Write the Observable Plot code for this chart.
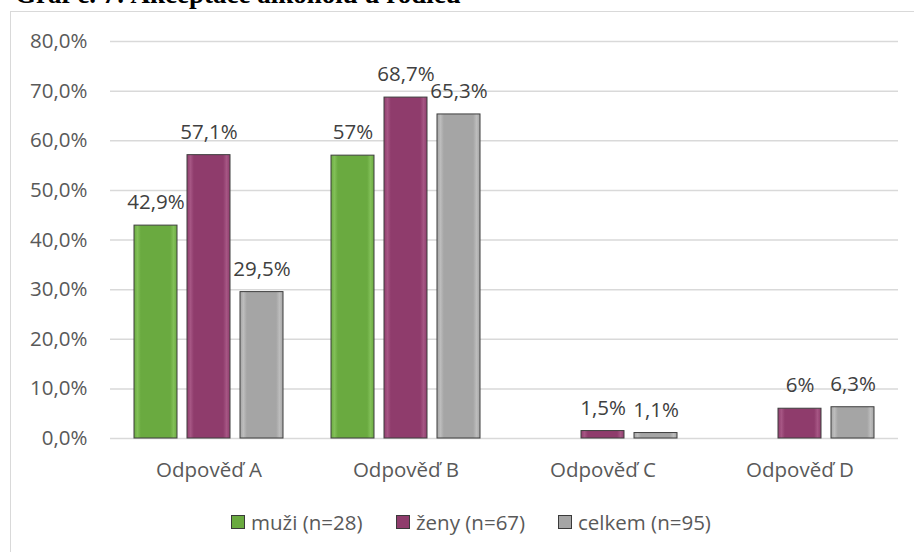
<!DOCTYPE html>
<html>
<head>
<meta charset="utf-8">
<script src="https://cdn.jsdelivr.net/npm/d3@7"></script>
<script src="https://cdn.jsdelivr.net/npm/@observablehq/plot@0.6"></script>
<style>
  html, body { margin: 0; padding: 0; background: #fff; }
  #page { position: relative; width: 914px; height: 552px; overflow: hidden; background: #fff; }
  #title {
    position: absolute; left: 15px; top: -19px; line-height: 1;
    font-family: "Liberation Serif", "Times New Roman", serif; font-weight: bold;
    font-size: 27px; color: #000; white-space: nowrap;
  }
  #frame {
    position: absolute; left: 10px; top: 11px; width: 920px; height: 560px;
    border: 1.5px solid #d9d9d9; box-sizing: border-box;
  }
  #chart { position: absolute; left: 0; top: 0; }
  #legend {
    position: absolute; top: 509px; left: 0; width: 914px; height: 26px;
    font-family: "Open Sans", sans-serif; font-size: 20.5px; color: #595959;
  }
  .item { position: absolute; top: 0; display: flex; align-items: center; height: 26px; white-space: nowrap; }
  .sw { width: 14px; height: 14px; box-sizing: border-box; border: 1px solid #3a3a3a; margin-right: 6px; }
</style>
</head>
<body>
<div id="page">
  <div id="title">Graf č. 7: Akceptace alkoholu u rodičů</div>
  <div id="frame"></div>
  <div id="chart"></div>
  <div id="legend"></div>
</div>
<script>
// Answer categories
const categories = ["Odpověď A", "Odpověď B", "Odpověď C", "Odpověď D"];
// Series names
const seriesNames = ["muži (n=28)", "ženy (n=67)", "celkem (n=95)"];
// Percentages per series (null = no answer in that group)
const muzi = [42.9, 57, null, null];
const zeny = [57.1, 68.7, 1.5, 6];
const celkem = [29.5, 65.3, 1.1, 6.3];
// Y axis ticks
const yTicks = [0, 10, 20, 30, 40, 50, 60, 70, 80];

const seriesValues = [muzi, zeny, celkem];
const baseColors = ["#6aaa40", "#8f3c6c", "#a5a5a5"];
const lightColors = ["#82c058", "#a65684", "#bdbdbd"];
const gradIds = ["g-muzi", "g-zeny", "g-celkem"];

const rows = [];
categories.forEach((c, i) => {
  seriesNames.forEach((s, j) => {
    const v = seriesValues[j][i];
    if (v != null) rows.push({category: c, series: s, value: v});
  });
});

const fmtPct = v => String(v).replace(".", ",") + "%";
const fmtTick = v => v.toFixed(1).replace(".", ",") + "%";

const font = '"Open Sans", sans-serif';

const chart = Plot.plot({
  width: 914,
  height: 490,
  marginTop: 41,
  marginBottom: 52,
  marginLeft: 110,
  marginRight: 16,
  style: {fontFamily: font, fontSize: "20.5px", color: "#595959", background: "transparent"},
  fx: {domain: categories, padding: 0, label: null, axis: null},
  x: {domain: seriesNames, paddingInner: 0.185, paddingOuter: 0.44, axis: null},
  y: {domain: [0, 80], label: null, axis: null},
  color: {domain: seriesNames, range: gradIds.map(id => `url(#${id})`)},
  marks: [
    Plot.gridY(yTicks, {stroke: "#d9d9d9", strokeOpacity: 1, strokeWidth: 1.5}),
    Plot.barY(rows, {fx: "category", x: "series", y: "value", fill: "series", stroke: "#3f3f3f", strokeWidth: 1}),
    Plot.text(rows, {fx: "category", x: "series", y: "value", text: d => fmtPct(d.value), dy: -23, fill: "#404040", fontSize: 20.5}),
    Plot.axisY({ticks: yTicks, tickFormat: fmtTick, tickSize: 0, tickPadding: 23, fontSize: 20.5, label: null, fill: "#595959"}),
    Plot.axisFx({anchor: "bottom", tickSize: 0, tickPadding: 24, fontSize: 20.5, label: null, fill: "#595959"})
  ]
});

// Bevel-style gradients for the bar fills
const svg = d3.select(chart);
const defs = svg.insert("defs", ":first-child");
gradIds.forEach((id, j) => {
  const g = defs.append("linearGradient").attr("id", id).attr("x1", "0").attr("x2", "1").attr("y1", "0").attr("y2", "0");
  [[0, baseColors[j]], [0.08, lightColors[j]], [0.16, baseColors[j]], [0.84, baseColors[j]], [0.92, lightColors[j]], [1, baseColors[j]]]
    .forEach(([o, c]) => g.append("stop").attr("offset", o).attr("stop-color", c));
});
document.getElementById("chart").appendChild(chart);

// Legend below the plot
const legend = document.getElementById("legend");
const legendX = [231, 396, 558];
seriesNames.forEach((s, j) => {
  const item = document.createElement("div");
  item.className = "item";
  item.style.left = legendX[j] + "px";
  const sw = document.createElement("span");
  sw.className = "sw";
  sw.style.background = baseColors[j];
  item.appendChild(sw);
  item.appendChild(document.createTextNode(s));
  legend.appendChild(item);
});
</script>
</body>
</html>
